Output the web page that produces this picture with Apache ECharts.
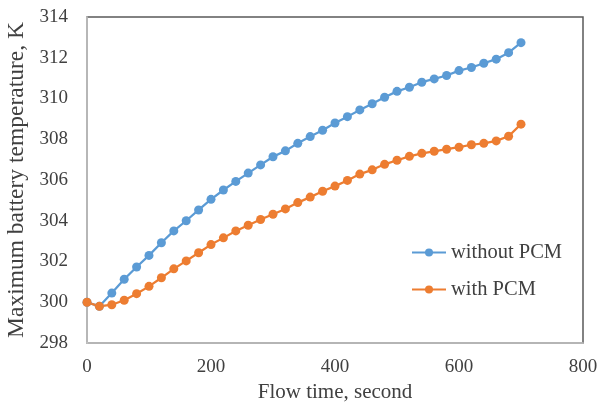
<!DOCTYPE html>
<html>
<head>
<meta charset="utf-8">
<script src="https://cdn.jsdelivr.net/npm/echarts@6/dist/echarts.min.js"></script>
<style>html,body{margin:0;padding:0;background:#fff}#c{width:604px;height:408px}</style>
</head>
<body>
<div id="c"></div>
<script>
const timeSec = [0,20,40,60,80,100,120,140,160,180,200,220,240,260,280,300,320,340,360,380,400,420,440,460,480,500,520,540,560,580,600,620,640,660,680,700];
const withoutPCM = [300.0,299.8,300.45,301.13,301.73,302.3,302.92,303.5,304.0,304.53,305.05,305.51,305.93,306.34,306.74,307.14,307.43,307.8,308.13,308.44,308.8,309.11,309.44,309.74,310.06,310.35,310.55,310.8,310.96,311.13,311.37,311.52,311.73,311.93,312.25,312.74];
const withPCM = [300.0,299.8,299.88,300.1,300.42,300.78,301.2,301.64,302.03,302.43,302.83,303.16,303.5,303.78,304.06,304.32,304.58,304.89,305.16,305.45,305.7,305.98,306.29,306.5,306.77,306.97,307.16,307.31,307.41,307.51,307.61,307.73,307.8,307.92,308.15,308.74];
const seriesNames = ['without PCM','with PCM'];
const xTitle = 'Flow time, second';
const yTitle = 'Maximum battery temperature, K';

const font = '"Liberation Serif", "Times New Roman", serif';
const txt = '#404040';
const chart = echarts.init(document.getElementById('c'));
chart.setOption({
  animation: false,
  grid: {left: 87, right: 21, top: 17, bottom: 65, show: true, borderColor: '#595959', borderWidth: 1.5, backgroundColor: 'transparent', containLabel: false, outerBoundsMode: 'none'},
  xAxis: {
    type: 'value', min: 0, max: 800, interval: 200,
    name: xTitle, nameLocation: 'middle', nameGap: 37,
    nameTextStyle: {fontFamily: font, fontSize: 21, color: txt},
    axisLine: {show: true, lineStyle: {color: '#c8c8c8', width: 1.5}},
    axisTick: {show: false},
    splitLine: {show: false},
    axisLabel: {fontFamily: font, fontSize: 19, color: txt, margin: 15}
  },
  yAxis: {
    type: 'value', min: 298, max: 314, interval: 2,
    name: yTitle, nameLocation: 'middle', nameGap: 53,
    nameTextStyle: {fontFamily: font, fontSize: 23.5, color: txt},
    axisLine: {show: true, lineStyle: {color: '#c8c8c8', width: 1.5}},
    axisTick: {show: false},
    splitLine: {show: false},
    axisLabel: {fontFamily: font, fontSize: 19, color: txt, margin: 19}
  },
  legend: {
    orient: 'vertical', left: 406, top: 236,
    itemWidth: 34, itemHeight: 10, itemGap: 14,
    textStyle: {fontFamily: font, fontSize: 20.5, color: txt, lineHeight: 23},
    data: seriesNames
  },
  series: [
    {name: seriesNames[0], type: 'line', data: timeSec.map((t,i)=>[t, withoutPCM[i]]),
     symbol: 'circle', symbolSize: 9, showSymbol: true,
     itemStyle: {color: '#5B9BD5'}, lineStyle: {color: '#5B9BD5', width: 2.25}},
    {name: seriesNames[1], type: 'line', data: timeSec.map((t,i)=>[t, withPCM[i]]),
     symbol: 'circle', symbolSize: 9, showSymbol: true,
     itemStyle: {color: '#ED7D31'}, lineStyle: {color: '#ED7D31', width: 2.25}}
  ]
});
</script>
</body>
</html>
